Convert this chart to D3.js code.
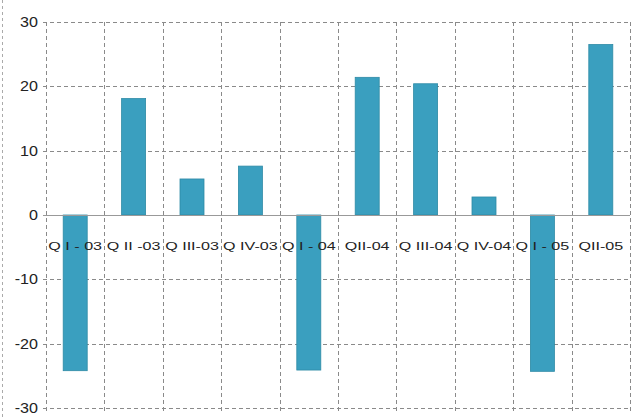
<!DOCTYPE html>
<html>
<head>
<meta charset="utf-8">
<script src="https://cdn.jsdelivr.net/npm/d3@7"></script>
<style>
  html, body { margin: 0; padding: 0; background: #fff; }
  svg { display: block; }
</style>
</head>
<body>
<div id="chart"></div>
<script>
// Quarterly change, in percent
const categories = ["Q I - 03", "Q II -03", "Q III-03", "Q IV-03", "Q I - 04",
                    "QII-04", "Q III-04", "Q IV-04", "Q I - 05", "QII-05"];
const values = [-24.2, 18.1, 5.6, 7.6, -24.1, 21.4, 20.4, 2.8, -24.3, 26.5];
const yTicks = [30, 20, 10, 0, -10, -20, -30];

const width = 639, height = 419;
const margin = { top: 22, right: 9, bottom: 11, left: 46 };
const font = "Liberation Sans, Arial, sans-serif";

const svg = d3.select("#chart").append("svg")
  .attr("width", width).attr("height", height);

const x = d3.scaleBand()
  .domain(categories)
  .range([margin.left, width - margin.right])
  .paddingInner(0).paddingOuter(0);

const y = d3.scaleLinear()
  .domain([-30, 30])
  .range([height - margin.bottom, margin.top]);

const gridColor = "#8a8a8a";
const dash = "4,3";

// outer dashed frame line on the left
svg.append("line")
  .attr("x1", 2.5).attr("x2", 2.5)
  .attr("y1", 0).attr("y2", height)
  .attr("stroke", "#aaa").attr("stroke-dasharray", "3,3");

// horizontal grid
svg.append("g").selectAll("line")
  .data(yTicks.filter(d => d !== 0))
  .join("line")
  .attr("x1", margin.left - 3).attr("x2", width - margin.right)
  .attr("y1", d => Math.round(y(d)) + 0.5).attr("y2", d => Math.round(y(d)) + 0.5)
  .attr("stroke", gridColor).attr("stroke-dasharray", dash);

// vertical grid at band edges
const edges = categories.map(c => x(c)).concat([x.range()[1]]);
svg.append("g").selectAll("line")
  .data(edges)
  .join("line")
  .attr("x1", d => Math.round(d) + 0.5).attr("x2", d => Math.round(d) + 0.5)
  .attr("y1", y(30)).attr("y2", y(-30) + 3)
  .attr("stroke", gridColor).attr("stroke-dasharray", dash);

// y-axis labels (slightly widened glyphs)
const ya = svg.append("g").selectAll("text")
  .data(yTicks)
  .join("text")
  .attr("transform", d => `translate(${margin.left - 8},${y(d) + 5}) scale(1.15,1)`)
  .attr("text-anchor", "end")
  .attr("font-family", font)
  .attr("font-size", 14).attr("fill", "#222")
  .text(d => d);

// bars
const barW = 24;
svg.append("g").selectAll("rect")
  .data(values)
  .join("rect")
  .attr("x", (d, i) => x(categories[i]) + x.bandwidth() / 2 - barW / 2)
  .attr("y", d => y(Math.max(0, d)))
  .attr("width", barW)
  .attr("height", d => Math.abs(y(d) - y(0)))
  .attr("fill", "#3a9fbf")
  .attr("stroke", "#2e8aa6").attr("stroke-width", 0.8);

// zero line
svg.append("line")
  .attr("x1", margin.left - 3).attr("x2", width - margin.right)
  .attr("y1", Math.round(y(0)) + 0.5).attr("y2", Math.round(y(0)) + 0.5)
  .attr("stroke", "#999").attr("stroke-width", 1);

// category labels just below the zero line, horizontally stretched
svg.append("g").selectAll("text")
  .data(categories)
  .join("text")
  .attr("transform", d => `translate(${x(d) + x.bandwidth() / 2},${y(0) + 35}) scale(1.4,1)`)
  .attr("text-anchor", "middle")
  .attr("font-family", font)
  .attr("font-size", 11.5).attr("fill", "#222")
  .text(d => d);
</script>
</body>
</html>
